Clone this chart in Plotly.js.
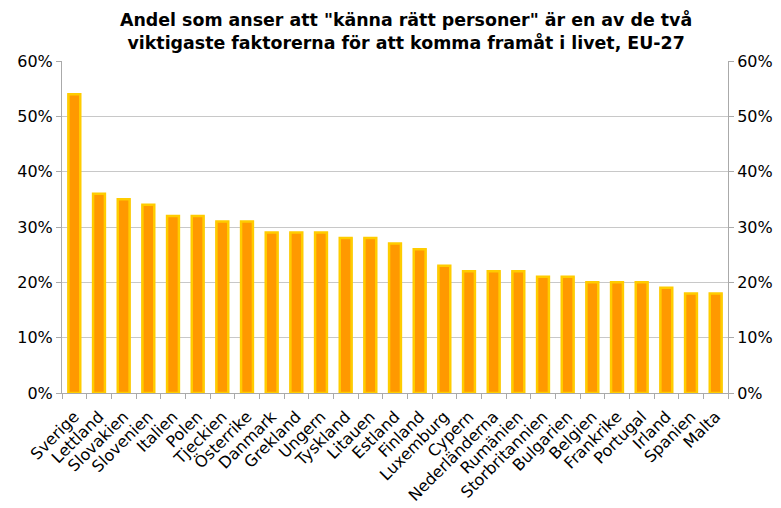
<!DOCTYPE html>
<html><head><meta charset="utf-8">
<script src="https://cdn.plot.ly/plotly-3.0.1.min.js"></script>
<style>html,body{margin:0;padding:0;background:#fff}#chart{width:781px;height:508px}</style>
</head><body><div id="chart"></div>
<script>
const countries = ["Sverige","Lettland","Slovakien","Slovenien","Italien","Polen","Tjeckien","Österrike","Danmark","Grekland","Ungern","Tyskland","Litauen","Estland","Finland","Luxemburg","Cypern","Nederländerna","Rumänien","Storbritannien","Bulgarien","Belgien","Frankrike","Portugal","Irland","Spanien","Malta"];
const shares = [0.54,0.36,0.35,0.34,0.32,0.32,0.31,0.31,0.29,0.29,0.29,0.28,0.28,0.27,0.26,0.23,0.22,0.22,0.22,0.21,0.21,0.20,0.20,0.20,0.19,0.18,0.18];
const titleText = '<b>Andel som anser att "känna rätt personer" är en av de två<br>viktigaste faktorerna för att komma framåt i livet, EU-27</b>';

const font = 'DejaVu Sans, Verdana, sans-serif';
const traces = [
  {type:'bar', x:countries, y:shares, width:0.54, marker:{color:'#C8B27A', line:{width:0}}, hoverinfo:'skip', showlegend:false},
  {type:'bar', x:countries, y:shares, width:0.48, marker:{color:'#FF9900', line:{color:'#FFCC00', width:2.5}}, showlegend:false},
  {type:'scatter', mode:'markers', x:countries, y:shares, yaxis:'y2', marker:{opacity:0}, hoverinfo:'skip', showlegend:false}
];
const layout = {
  width:781, height:508,
  margin:{l:62, r:53, t:61, b:115},
  paper_bgcolor:'#fff', plot_bgcolor:'#fff',
  barmode:'overlay',
  font:{family:font, color:'#000'},
  annotations:[{text:titleText, xref:'paper', yref:'paper', x:0.517, y:1.162, xanchor:'center', yanchor:'top', showarrow:false, align:'center', font:{family:font, size:17.4, color:'#000'}}],
  xaxis:{type:'category', range:[-0.5, countries.length-0.5], autorange:false, tickangle:-45, tickfont:{size:16}, ticklabelstandoff:7, showline:true, linecolor:'#AAAAAA', ticks:'outside', tickson:'boundaries', ticklen:5, tickcolor:'#AAAAAA', showgrid:false, fixedrange:true},
  yaxis:{range:[0,0.6], dtick:0.1, tickformat:'.0%', tickfont:{size:16}, showline:true, linecolor:'#AAAAAA', ticks:'outside', ticklen:5, tickcolor:'#AAAAAA', gridcolor:'#C8C8C8', gridwidth:1, zeroline:false},
  yaxis2:{overlaying:'y', side:'right', range:[0,0.6], dtick:0.1, tickformat:'.0%', tickfont:{size:16}, showline:true, linecolor:'#AAAAAA', ticks:'outside', ticklen:5, tickcolor:'#AAAAAA', showgrid:false, zeroline:false}
};
Plotly.newPlot('chart', traces, layout, {displayModeBar:false, staticPlot:true});
</script></body></html>
